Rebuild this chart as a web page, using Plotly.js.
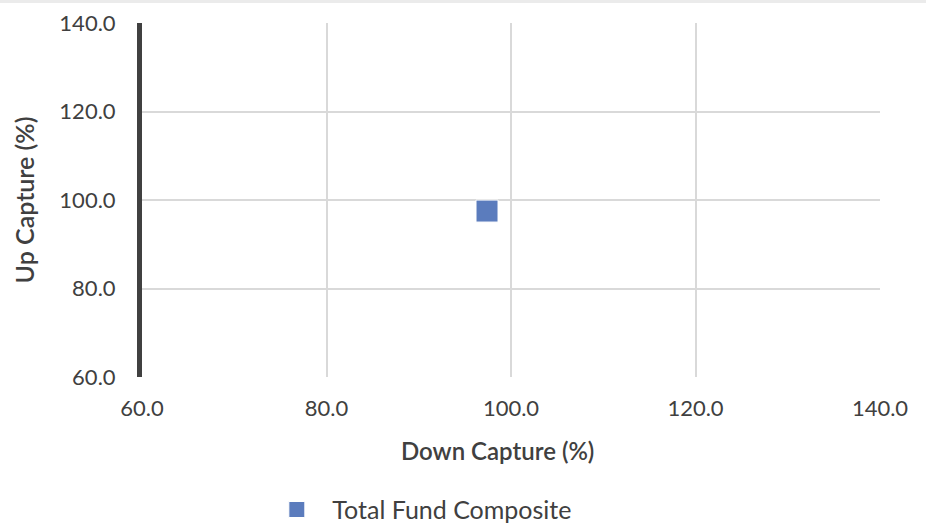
<!DOCTYPE html>
<html>
<head>
<meta charset="utf-8">
<script src="https://cdn.plot.ly/plotly-3.0.1.min.js"></script>
<style>
  html, body { margin: 0; padding: 0; background: #fff; }
  #wrap { position: relative; width: 930px; height: 531px; }
  #topband { position: absolute; left: 0; top: 0; width: 926px; height: 3px; background: #ebebeb; z-index: 2; }
  #chart { position: absolute; left: 0; top: 0; width: 930px; height: 531px; }
</style>
</head>
<body>
<div id="wrap">
  <div id="topband"></div>
  <div id="chart"></div>
</div>
<script>
// Up/down capture of the fund composite
const seriesNames = ["Total Fund Composite"];
const downCapture = [97.4];
const upCapture = [97.5];

const axisTicks = [60, 80, 100, 120, 140];
const axisTickText = ["60.0", "80.0", "100.0", "120.0", "140.0"];
const gridTicks = [80, 100, 120];
const axisRange = [60, 140];
const xTitle = "Down Capture (%)";
const yTitle = "Up Capture (%)";

const textColor = "#404040";
const baseFont = { family: "Lato, 'Open Sans', sans-serif", size: 22, color: textColor };

const traces = [{
  type: "scatter",
  mode: "markers",
  name: seriesNames[0],
  x: downCapture,
  y: upCapture,
  marker: { symbol: "square", size: 22, color: "#5b7cbd", line: { color: "#ffffff", width: 1 } },
  hoverinfo: "x+y+name"
}];

const layout = {
  width: 930,
  height: 531,
  margin: { l: 142, r: 50, t: 23, b: 154 },
  paper_bgcolor: "#ffffff",
  plot_bgcolor: "#ffffff",
  font: baseFont,
  showlegend: true,
  legend: {
    orientation: "h",
    xref: "container", yref: "container",
    x: 0.281, xanchor: "left",
    y: 0.04, yanchor: "middle",
    font: { family: "Lato, sans-serif", size: 25, color: textColor },
    itemwidth: 61
  },
  // interior grid lines only
  xaxis2: {
    overlaying: "x", range: axisRange, tickmode: "array", tickvals: gridTicks,
    showticklabels: false, showgrid: true, gridcolor: "#d9d9d9", gridwidth: 2,
    zeroline: false, showline: false, ticks: "", fixedrange: true
  },
  yaxis2: {
    overlaying: "y", range: axisRange, tickmode: "array", tickvals: gridTicks,
    showticklabels: false, showgrid: true, gridcolor: "#d9d9d9", gridwidth: 2,
    zeroline: false, showline: false, ticks: "", fixedrange: true
  },
  xaxis: {
    range: axisRange, tickmode: "array", tickvals: axisTicks, ticktext: axisTickText,
    showgrid: false, zeroline: false, showline: false, ticks: "",
    ticklabelstandoff: 16,
    tickfont: baseFont,
    automargin: false
  },
  yaxis: {
    range: axisRange, tickmode: "array", tickvals: axisTicks, ticktext: axisTickText,
    showgrid: false, zeroline: false, showline: true, linecolor: "#404040", linewidth: 5,
    ticks: "", ticklabelstandoff: 17,
    tickfont: baseFont,
    title: { text: yTitle, font: { family: "Lato, sans-serif", size: 25, color: textColor, weight: 600 }, standoff: 19 },
    automargin: false
  },
  annotations: [{
    text: xTitle,
    xref: "paper", yref: "paper",
    x: 0.4817, y: -0.209, xanchor: "center", yanchor: "middle",
    showarrow: false,
    font: { family: "Lato, sans-serif", size: 24, color: textColor, weight: 600 }
  }]
};

// empty trace to bring the grid axes into the figure
traces.unshift({
  type: "scatter", mode: "markers", x: [], y: [], xaxis: "x2", yaxis: "y2",
  showlegend: false, hoverinfo: "skip"
});

Plotly.newPlot("chart", traces, layout, { displayModeBar: false, staticPlot: true });
</script>
</body>
</html>
